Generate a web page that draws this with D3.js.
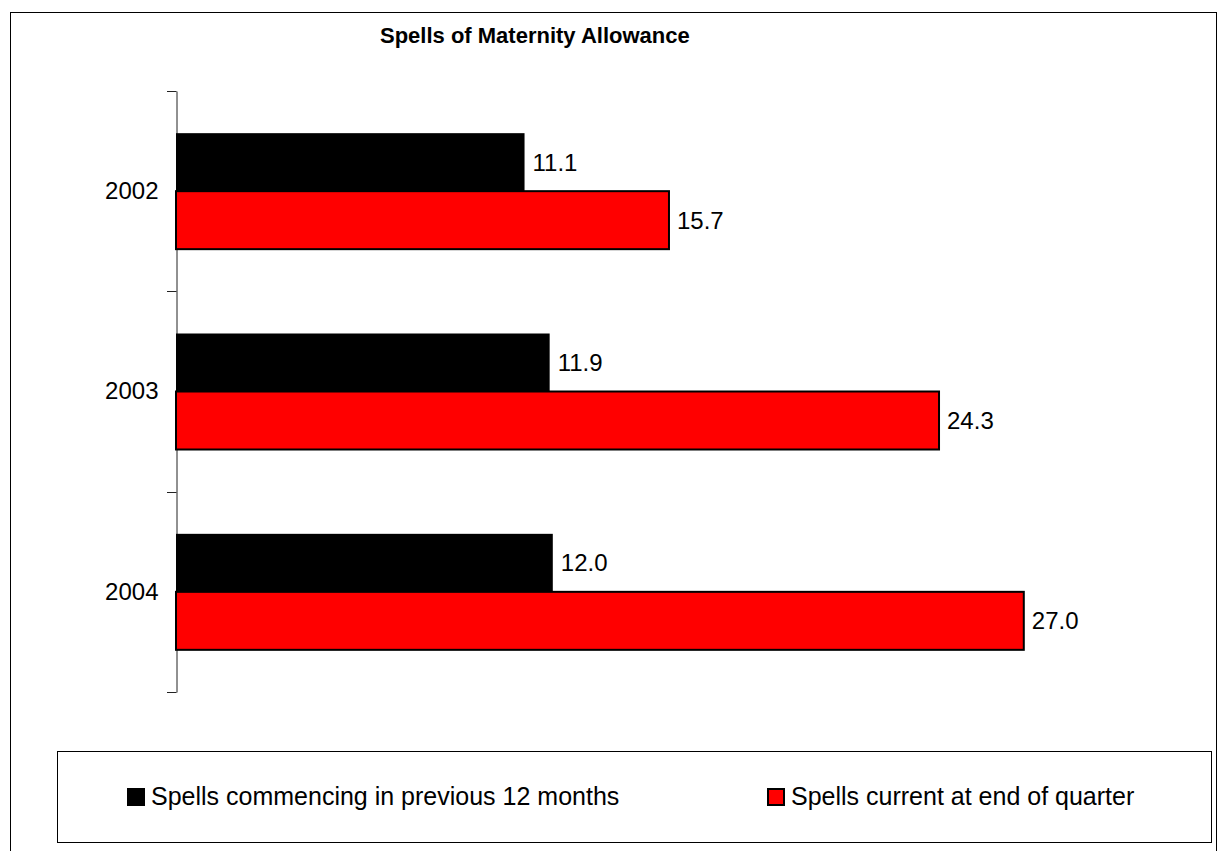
<!DOCTYPE html>
<html>
<head>
<meta charset="utf-8">
<script src="https://cdn.jsdelivr.net/npm/d3@7"></script>
<style>
  body { margin: 0; background: #fff; }
  svg { display: block; font-family: Arial, "Liberation Sans", sans-serif; }
</style>
</head>
<body>
<script>
const years = ["2002", "2003", "2004"];
const seriesNames = ["Spells commencing in previous 12 months", "Spells current at end of quarter"];
const commencing = [11.1, 11.9, 12.0];
const current = [15.7, 24.3, 27.0];
const colors = ["#000000", "#ff0000"];

const width = 1218, height = 851;

const svg = d3.select("body").append("svg")
  .attr("width", width)
  .attr("height", height);

// chart area border (runs off the bottom edge)
svg.append("rect")
  .attr("x", 10.5).attr("y", 12.5)
  .attr("width", 1206).attr("height", 900)
  .attr("fill", "#fff").attr("stroke", "#000").attr("stroke-width", 1);

svg.append("text")
  .attr("x", 380).attr("y", 43)
  .attr("font-size", 22).attr("font-weight", "bold")
  .text("Spells of Maternity Allowance");

const x = d3.scaleLinear().domain([0, 30]).range([176, 176 + 942]);
const y = d3.scaleBand().domain(years).range([91, 692]);
const inner = d3.scaleBand().domain([0, 1]).range([0, y.bandwidth()]).paddingOuter(0.727);

// category axis
const axis = svg.append("g")
  .attr("transform", "translate(176.5,0)")
  .call(d3.axisLeft(y).tickSize(0).tickPadding(18).tickSizeOuter(0));
axis.select(".domain").attr("stroke", "#222");
axis.selectAll("text").attr("font-size", 24).attr("fill", "#000")
  .attr("font-family", "Arial, 'Liberation Sans', sans-serif");

svg.append("g")
  .selectAll("line")
  .data([91, ...years.map(d => y(d) + y.bandwidth())])
  .join("line")
  .attr("x1", 167).attr("x2", 176.5)
  .attr("y1", d => Math.round(d) + 0.5).attr("y2", d => Math.round(d) + 0.5)
  .attr("stroke", "#222");

const rows = years.map((yr, i) => ({ yr, vals: [commencing[i], current[i]] }));

const groups = svg.append("g")
  .selectAll("g")
  .data(rows)
  .join("g")
  .attr("transform", d => `translate(0,${y(d.yr)})`);

groups.selectAll("rect")
  .data(d => d.vals.map((v, s) => ({ v, s })))
  .join("rect")
  .attr("x", x(0))
  .attr("y", d => inner(d.s))
  .attr("width", d => x(d.v) - x(0))
  .attr("height", inner.bandwidth())
  .attr("fill", d => colors[d.s])
  .attr("stroke", "#000")
  .attr("stroke-width", d => d.s === 1 ? 2 : 0);

groups.selectAll("text")
  .data(d => d.vals.map((v, s) => ({ v, s })))
  .join("text")
  .attr("x", d => x(d.v) + 8)
  .attr("y", d => inner(d.s) + inner.bandwidth() / 2)
  .attr("dy", "0.35em")
  .attr("font-size", 24)
  .text(d => d3.format(".1f")(d.v));

// legend
const legend = svg.append("g");
legend.append("rect")
  .attr("x", 57.5).attr("y", 751.5)
  .attr("width", 1154).attr("height", 91)
  .attr("fill", "#fff").attr("stroke", "#000");

const legendX = [127, 767];
const item = legend.selectAll("g.item")
  .data(seriesNames)
  .join("g")
  .attr("class", "item")
  .attr("transform", (d, i) => `translate(${legendX[i]},788)`);

item.append("rect")
  .attr("x", (d, i) => i === 1 ? 1 : 0).attr("y", (d, i) => i === 1 ? 1 : 0)
  .attr("width", (d, i) => i === 1 ? 16 : 18)
  .attr("height", (d, i) => i === 1 ? 16 : 18)
  .attr("fill", (d, i) => colors[i])
  .attr("stroke", "#000")
  .attr("stroke-width", (d, i) => i === 1 ? 2 : 0);

item.append("text")
  .attr("x", 24).attr("y", 17)
  .attr("font-size", 25)
  .text(d => d);
</script>
</body>
</html>
